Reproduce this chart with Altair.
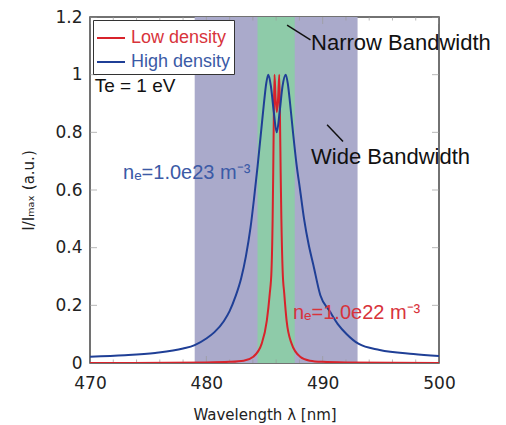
import altair as alt
import pandas as pd

# ---- data ----
blue_wl = [470, 473, 475.6, 478, 479, 480, 480.7, 481.5, 482.0, 482.5, 483.0, 483.4,
           483.8, 484.1, 484.4, 484.7, 484.95, 485.15, 485.33, 485.55, 485.8, 486.05,
           486.3, 486.55, 486.82, 487.0, 487.2, 487.45, 487.75, 488.06, 488.4, 488.8,
           489.2, 489.8, 490.6, 491.3, 492.07, 493.07, 494.9, 497.8, 500]
blue_I = [0.022, 0.027, 0.035, 0.050, 0.062, 0.085, 0.107, 0.145, 0.18, 0.23, 0.295, 0.37,
          0.47, 0.57, 0.68, 0.80, 0.90, 0.97, 1.0, 0.96, 0.87, 0.80,
          0.87, 0.96, 1.0, 0.97, 0.90, 0.80, 0.69, 0.60, 0.50, 0.41,
          0.34, 0.235, 0.18, 0.135, 0.10, 0.067, 0.045, 0.031, 0.024]

red_wl = [470, 480, 482, 483.2, 484.04, 484.76, 485.2, 485.45, 485.6, 485.7, 485.75,
          485.8, 485.86, 485.95, 486.06, 486.17, 486.27, 486.33, 486.39, 486.45, 486.56,
          486.7, 486.9, 487.33, 488.06, 488.9, 490, 492, 500]
red_I = [0.0, 0.002, 0.004, 0.008, 0.022, 0.067, 0.147, 0.24, 0.32, 0.5, 0.66,
         0.85, 1.0, 0.92, 0.87, 0.92, 1.0, 0.85, 0.66, 0.5, 0.32,
         0.24, 0.147, 0.067, 0.022, 0.008, 0.004, 0.002, 0.0]

series_names = ["Low density", "High density"]
series_colors = ["#d8232b", "#1f3f96"]

band_names = ["Wide Bandwidth", "Narrow Bandwidth"]
band_lo = [479.0, 484.4]
band_hi = [493.0, 487.6]
band_colors = ["#aaaacb", "#8ecba9"]

x_ticks = [470, 480, 490, 500]
x_minor = [472, 474, 476, 478, 482, 484, 486, 488, 492, 494, 496, 498]
y_ticks = [0, 0.2, 0.4, 0.6, 0.8, 1, 1.2]

note_text = ["Narrow Bandwidth", "Wide Bandwidth", "Te = 1 eV"]
note_wl = [489.0, 489.0, 470.4]
note_I = [1.11, 0.716, 0.96]
note_size = [22, 22, 19]

ne_text = ["nₑ=1.0e23 m⁻³", "nₑ=1.0e22 m⁻³"]
ne_wl = [472.84, 487.45]
ne_I = [0.66, 0.175]
ne_color = ["#3b5aa6", "#d8333b"]

ptr_wl1 = [486.94, 490.38]
ptr_I1 = [1.172, 0.826]
ptr_wl2 = [488.95, 491.75]
ptr_I2 = [1.121, 0.768]

# ---- tables ----
lines_df = pd.concat([
    pd.DataFrame({"wl": red_wl, "I": red_I, "series": series_names[0]}),
    pd.DataFrame({"wl": blue_wl, "I": blue_I, "series": series_names[1]}),
])
bands_df = pd.DataFrame({"name": band_names, "lo": band_lo, "hi": band_hi, "c": band_colors})
notes_df = pd.DataFrame({"t": note_text, "wl": note_wl, "I": note_I, "fs": note_size})
ne_df = pd.DataFrame({"t": ne_text, "wl": ne_wl, "I": ne_I, "c": ne_color})
ptr_df = pd.DataFrame({"x1": ptr_wl1, "y1": ptr_I1, "x2": ptr_wl2, "y2": ptr_I2})
xmaj_df = pd.DataFrame({"v": x_ticks})
xmin_df = pd.DataFrame({"v": x_minor})
ymaj_df = pd.DataFrame({"v": y_ticks})

xs = alt.Scale(domain=[470, 500], nice=False, zero=False)
ys = alt.Scale(domain=[0, 1.2], nice=False)

W, H = 349, 346

bands = alt.Chart(bands_df).mark_rect().encode(
    x=alt.X("lo:Q", scale=xs, axis=alt.Axis(values=x_ticks, title="Wavelength λ [nm]",
                                            labelPadding=12, titlePadding=16, labelFlush=False)),
    x2="hi:Q",
    y=alt.Y("y0:Q", scale=ys, axis=alt.Axis(values=y_ticks, format="~g", title="I/Iₘₐₓ (a.u.)",
                                             labelPadding=8, titlePadding=18, labelFlush=False)),
    y2="y1:Q",
    color=alt.Color("c:N", scale=None),
).transform_calculate(y0="0", y1="1.2")

tick_col = "#9a9a9a"
def vticks(df, size, ypos):
    return alt.Chart(df).mark_tick(orient="vertical", size=size, thickness=1, color=tick_col, clip=True).encode(
        x=alt.X("v:Q", scale=xs), y=alt.value(ypos))

def hticks(df, size, xpos):
    return alt.Chart(df).mark_tick(orient="horizontal", size=size, thickness=1, color=tick_col, clip=True).encode(
        y=alt.Y("v:Q", scale=ys), x=alt.value(xpos))

ticks = [vticks(xmaj_df, 14, H), vticks(xmaj_df, 14, 0), vticks(xmin_df, 7, H), vticks(xmin_df, 7, 0),
         hticks(ymaj_df, 14, 0), hticks(ymaj_df, 14, W)]

lines = alt.Chart(lines_df).mark_line(strokeWidth=2, interpolate="monotone", clip=True).encode(
    x=alt.X("wl:Q", scale=xs),
    y=alt.Y("I:Q", scale=ys),
    color=alt.Color("series:N",
                    scale=alt.Scale(domain=series_names, range=series_colors),
                    legend=alt.Legend(title=None, orient="none", legendX=3, legendY=3,
                                      symbolType="stroke", symbolStrokeWidth=2, symbolSize=784,
                                      labelFontSize=18, labelFont="Liberation Sans",
                                      strokeColor="#333", fillColor="white", padding=3,
                                      rowPadding=-5, labelOffset=5,
                                      labelColor=alt.ExprRef(expr="datum.label == 'Low density' ? '#d8333b' : '#3b5aa6'"))),
)

notes = alt.Chart(notes_df).mark_text(align="left", baseline="middle", font="Liberation Sans", color="#111").encode(
    x=alt.X("wl:Q", scale=xs), y=alt.Y("I:Q", scale=ys), text="t:N", size=alt.Size("fs:Q", scale=None))

ne = alt.Chart(ne_df).mark_text(align="left", baseline="middle", font="Liberation Sans", fontSize=20).encode(
    x=alt.X("wl:Q", scale=xs), y=alt.Y("I:Q", scale=ys), text="t:N", color=alt.Color("c:N", scale=None))

ptrs = alt.Chart(ptr_df).mark_rule(color="#111", strokeWidth=1.5).encode(
    x=alt.X("x1:Q", scale=xs), y=alt.Y("y1:Q", scale=ys), x2="x2:Q", y2="y2:Q")

chart = alt.layer(bands, *ticks, lines, ptrs, notes, ne).properties(
    width=W, height=H,
    autosize=alt.AutoSizeParams(type="none"),
    padding={"left": 82, "top": 9, "right": 59, "bottom": 62},
).configure_view(stroke="#444", strokeWidth=1.5).configure_axis(
    domain=False, ticks=False, grid=False,
    labelFont="DejaVu Sans", labelFontSize=17, labelColor="#222",
    titleFont="DejaVu Sans", titleFontSize=15, titleFontWeight="normal", titleColor="#222",
)

chart.save("out.html", embed_options={"renderer": "svg", "actions": False})
